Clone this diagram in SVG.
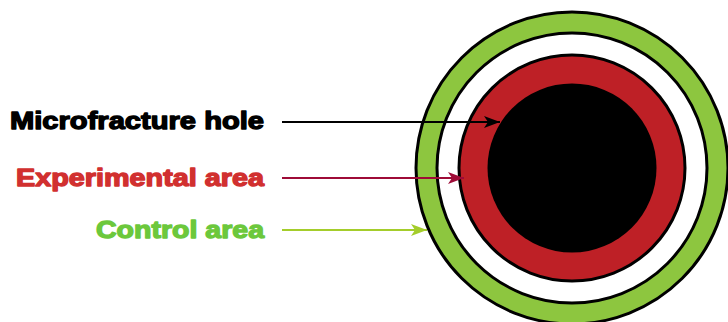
<svg xmlns="http://www.w3.org/2000/svg" width="728" height="322" viewBox="0 0 728 322">
<defs>
<style>
.lbl{font-family:"Liberation Sans",Arial,sans-serif;font-weight:bold;font-size:23.5px;text-anchor:end;stroke-width:1.3;stroke-linejoin:round}
.ring{stroke:#000;stroke-width:3}
.conn{stroke-width:2.2;fill:none}
</style>
<marker id="mk" viewBox="0 0 16 12" refX="16" refY="6" markerWidth="16" markerHeight="12" markerUnits="userSpaceOnUse" orient="auto"><path d="M0,0 L16,6 L0,12 L4,6 Z" fill="#000"/></marker>
<marker id="mr" viewBox="0 0 16 12" refX="16" refY="6" markerWidth="16" markerHeight="12" markerUnits="userSpaceOnUse" orient="auto"><path d="M0,0 L16,6 L0,12 L4,6 Z" fill="#9E0B37"/></marker>
<marker id="mg" viewBox="0 0 16 12" refX="16" refY="6" markerWidth="16" markerHeight="12" markerUnits="userSpaceOnUse" orient="auto"><path d="M0,0 L16,6 L0,12 L4,6 Z" fill="#A4CD2B"/></marker>
</defs>
<rect width="728" height="322" fill="#fff"/>
<g id="control-area"><circle class="ring" cx="572" cy="168" r="156" fill="#8DC63F"/></g>
<g id="gap"><circle class="ring" cx="572" cy="168" r="135" fill="#fff"/></g>
<g id="experimental-area"><circle class="ring" cx="572" cy="168" r="113" fill="#BE2026"/></g>
<g id="microfracture-hole"><circle cx="572" cy="168" r="84.5" fill="#000"/></g>
<g id="labels">
<text class="lbl" x="264" y="128.5" fill="#000" stroke="#000" textLength="254" lengthAdjust="spacingAndGlyphs">Microfracture hole</text>
<text class="lbl" x="264" y="185.5" fill="#D1302F" stroke="#D1302F" textLength="248" lengthAdjust="spacingAndGlyphs">Experimental area</text>
<text class="lbl" x="264" y="237.5" fill="#6CC83C" stroke="#6CC83C" textLength="168" lengthAdjust="spacingAndGlyphs">Control area</text>
</g>
<g id="connectors">
<line class="conn" x1="282" y1="122" x2="500" y2="122" stroke="#000" marker-end="url(#mk)"/>
<line class="conn" x1="282" y1="178" x2="464" y2="178" stroke="#9E0B37" marker-end="url(#mr)"/>
<line class="conn" x1="282" y1="230" x2="427" y2="230" stroke="#A4CD2B" marker-end="url(#mg)"/>
</g>
</svg>
